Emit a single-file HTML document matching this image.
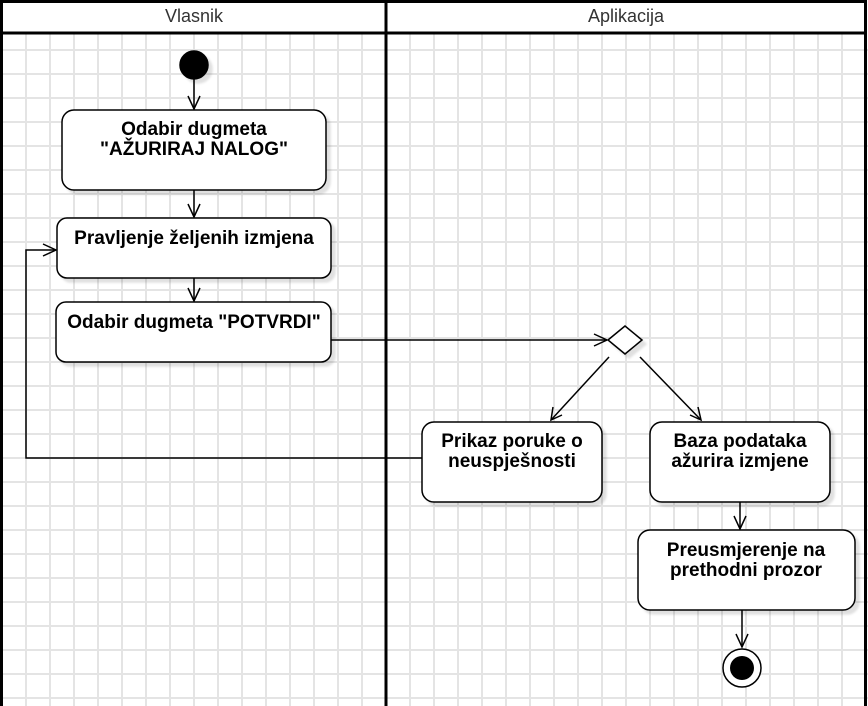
<!DOCTYPE html>
<html><head><style>
body{margin:0;background:#fff}
svg{display:block}
text{font-family:"Liberation Sans",sans-serif;font-weight:bold;font-size:19px;fill:#000;text-anchor:middle}
</style></head><body>
<svg width="868" height="706" viewBox="0 0 868 706" xmlns="http://www.w3.org/2000/svg">
<defs>
<filter id="s" x="-10%" y="-10%" width="130%" height="130%"><feOffset dx="4" dy="4"/><feGaussianBlur stdDeviation="1"/><feColorMatrix type="matrix" values="0 0 0 0 0  0 0 0 0 0  0 0 0 0 0  0 0 0 0.12 0"/><feMerge><feMergeNode/><feMergeNode in="SourceGraphic"/></feMerge></filter>
</defs>
<rect width="868" height="706" fill="#fff"/>
<g stroke="#e4e4e4" stroke-width="2">
<path d="M2 0V706M26 0V706M50 0V706M74 0V706M98 0V706M122 0V706M146 0V706M170 0V706M194 0V706M218 0V706M242 0V706M266 0V706M290 0V706M314 0V706M338 0V706M362 0V706M386 0V706M410 0V706M434 0V706M458 0V706M482 0V706M506 0V706M530 0V706M554 0V706M578 0V706M602 0V706M626 0V706M650 0V706M674 0V706M698 0V706M722 0V706M746 0V706M770 0V706M794 0V706M818 0V706M842 0V706"/>
<path d="M0 50H868M0 74H868M0 98H868M0 122H868M0 146H868M0 170H868M0 194H868M0 218H868M0 242H868M0 266H868M0 290H868M0 314H868M0 338H868M0 362H868M0 386H868M0 410H868M0 434H868M0 458H868M0 482H868M0 506H868M0 530H868M0 554H868M0 578H868M0 602H868M0 626H868M0 650H868M0 674H868M0 698H868"/>
</g>
<rect x="1" y="1" width="865" height="32" fill="#fff"/>
<g fill="none" stroke="#000" stroke-width="3">
<rect x="1.5" y="1.5" width="864" height="710"/>
<line x1="1" y1="33" x2="866" y2="33"/>
<line x1="386" y1="1" x2="386" y2="706"/>
</g>
<text x="194" y="22" style="font-weight:normal;font-size:18px;fill:#333">Vlasnik</text>
<text x="626" y="22" style="font-weight:normal;font-size:18px;fill:#333">Aplikacija</text>

<g stroke="#000" stroke-width="1.5" fill="none">
<line x1="194" y1="79" x2="194" y2="109"/><path d="M188 96L194 109L200 96"/>
<line x1="194" y1="190" x2="194" y2="217"/><path d="M188 204L194 217L200 204"/>
<line x1="194" y1="278" x2="194" y2="301"/><path d="M188 288L194 301L200 288"/>
<line x1="331" y1="340" x2="607" y2="340"/><path d="M594 334L607 340L594 346"/>
<line x1="609" y1="357" x2="551" y2="420"/><path d="M553 407L551 420L562 415"/>
<line x1="640" y1="357" x2="701" y2="420"/><path d="M690 415L701 420L698 407"/>
<line x1="740" y1="502" x2="740" y2="529"/><path d="M734 516L740 529L746 516"/>
<line x1="742" y1="610" x2="742" y2="647"/><path d="M736 634L742 647L748 634"/>
<path d="M422 458H26V250H56"/><path d="M43 244L56 250L43 256"/>
</g>

<g fill="#fff" stroke="#000" stroke-width="1.5" filter="url(#s)">
<rect x="62" y="110" width="264" height="80" rx="12"/>
<rect x="57" y="218" width="274" height="60" rx="10"/>
<rect x="56" y="302" width="275" height="60" rx="10"/>
<rect x="422" y="422" width="180" height="80" rx="12"/>
<rect x="650" y="422" width="180" height="80" rx="12"/>
<rect x="638" y="530" width="217" height="80" rx="12"/>
<path d="M608 340L625 326L642 340L625 354Z"/>
<circle cx="194" cy="65" r="14" fill="#000"/>
</g>
<circle cx="742" cy="668" r="19" fill="#fff" stroke="#000" stroke-width="1.5"/>
<circle cx="742" cy="668" r="12" fill="#000"/>

<text x="194" y="135">Odabir dugmeta</text>
<text x="194" y="155">"AŽURIRAJ NALOG"</text>
<text x="194" y="244">Pravljenje željenih izmjena</text>
<text x="194" y="328">Odabir dugmeta "POTVRDI"</text>
<text x="512" y="447">Prikaz poruke o</text>
<text x="512" y="467">neuspješnosti</text>
<text x="740" y="447">Baza podataka</text>
<text x="740" y="467">ažurira izmjene</text>
<text x="746" y="556">Preusmjerenje na</text>
<text x="746" y="576">prethodni prozor</text>
</svg>
</body></html>
